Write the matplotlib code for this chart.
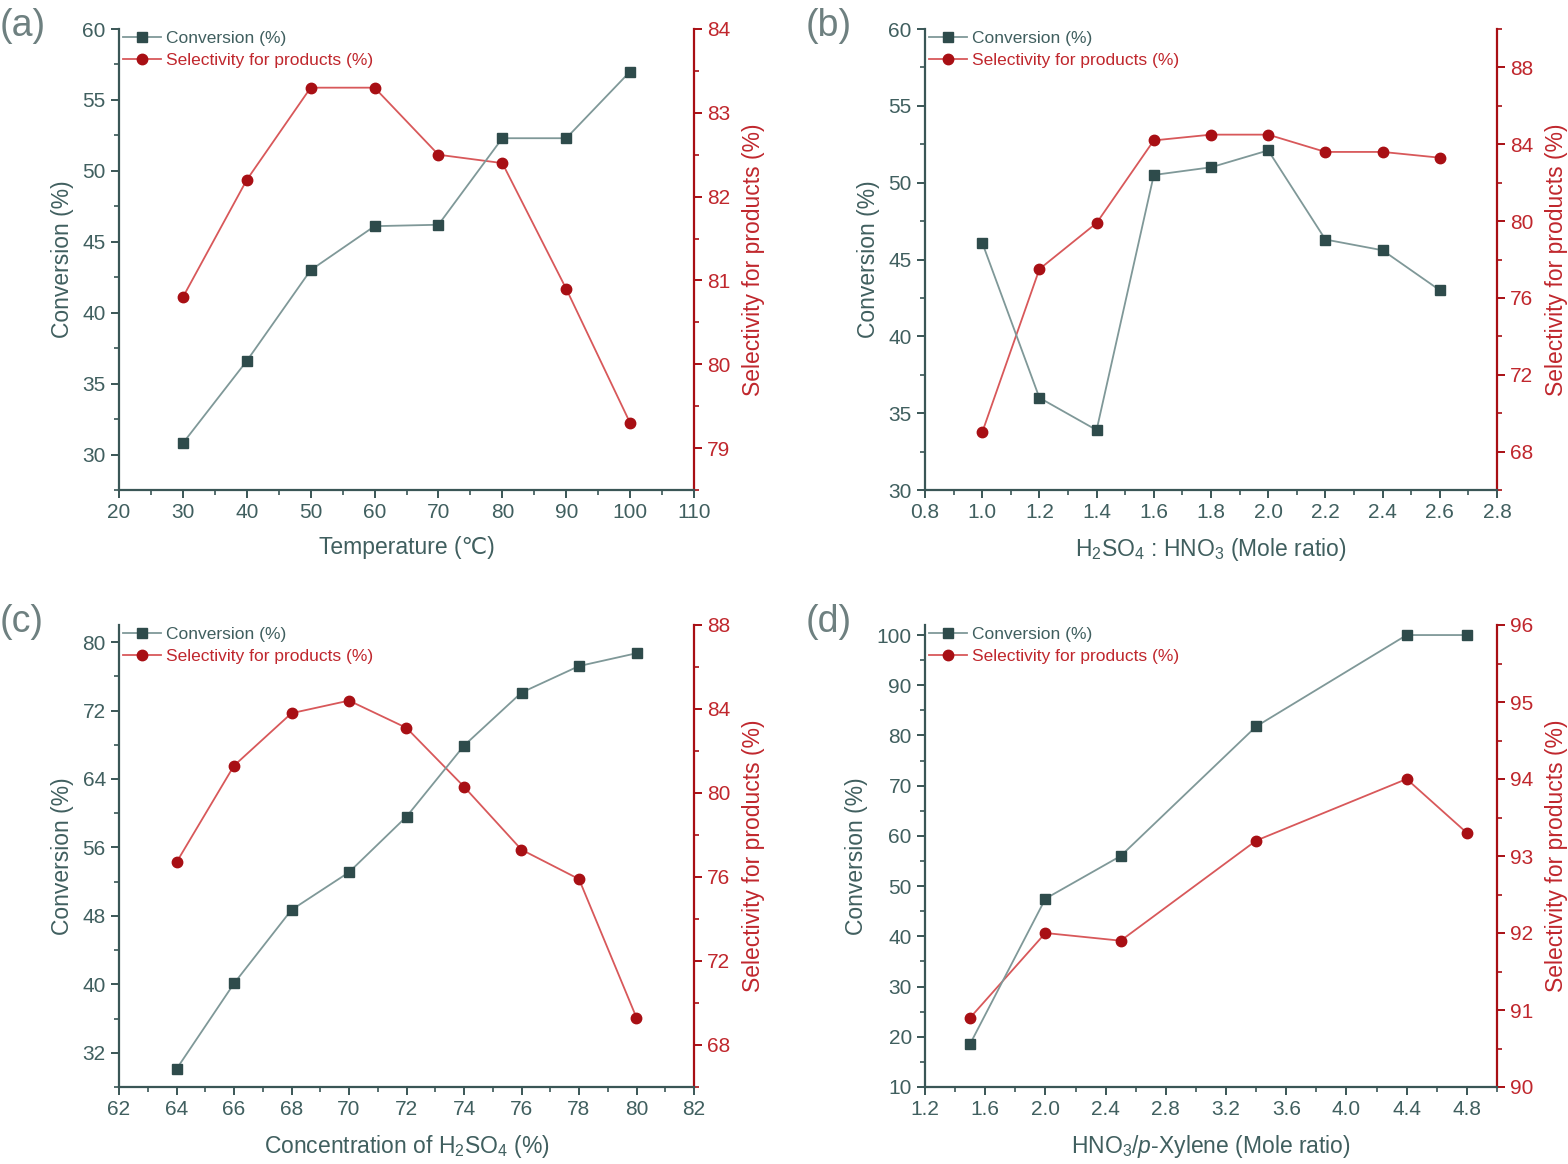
import matplotlib
matplotlib.use("Agg")
import matplotlib.pyplot as plt
from matplotlib.ticker import MultipleLocator
from matplotlib import font_manager

names = {f.name for f in font_manager.fontManager.ttflist}
NARROW = 'Liberation Sans Narrow' if 'Liberation Sans Narrow' in names else 'Liberation Sans'
plt.rcParams['font.family'] = ['Liberation Sans', 'DejaVu Sans']
plt.rcParams['mathtext.fontset'] = 'custom'
plt.rcParams['mathtext.rm'] = 'Liberation Sans'
plt.rcParams['mathtext.it'] = 'Liberation Sans:italic'

# ---------- data ----------
a_x = [30, 40, 50, 60, 70, 80, 90, 100]
a_conv = [30.8, 36.6, 43.0, 46.1, 46.2, 52.3, 52.3, 57.0]
a_sel = [80.8, 82.2, 83.3, 83.3, 82.5, 82.4, 80.9, 79.3]

b_x = [1.0, 1.2, 1.4, 1.6, 1.8, 2.0, 2.2, 2.4, 2.6]
b_conv = [46.1, 36.0, 33.9, 50.5, 51.0, 52.1, 46.3, 45.6, 43.0]
b_sel = [69.0, 77.5, 79.9, 84.2, 84.5, 84.5, 83.6, 83.6, 83.3]

c_x = [64, 66, 68, 70, 72, 74, 76, 78, 80]
c_conv = [30.1, 40.1, 48.7, 53.1, 59.6, 67.9, 74.1, 77.2, 78.7]
c_sel = [76.7, 81.3, 83.8, 84.4, 83.1, 80.3, 77.3, 75.9, 69.3]

d_x = [1.5, 2.0, 2.5, 3.4, 4.4, 4.8]
d_conv = [18.6, 47.5, 56.0, 81.8, 100.0, 100.0]
d_sel = [90.9, 92.0, 91.9, 93.2, 94.0, 93.3]

panels = [
    dict(tag='(a)', x=a_x, conv=a_conv, sel=a_sel,
         xlabel='Temperature (\u2103)',
         xlim=(20, 110), xmaj=10, xmin=5,
         ylim=(27.5, 60), ymaj=5, ymin=2.5,
         rlim=(78.5, 84), rmaj=1, rmin=0.5,
         pos=(119, 694, 29, 490)),
    dict(tag='(b)', x=b_x, conv=b_conv, sel=b_sel,
         xlabel='H$_2$SO$_4$ : HNO$_3$ (Mole ratio)',
         xlim=(0.8, 2.8), xmaj=0.2, xmin=0.1,
         ylim=(30, 60), ymaj=5, ymin=2.5,
         rlim=(66, 90), rmaj=4, rmin=2,
         pos=(925, 1497, 29, 490)),
    dict(tag='(c)', x=c_x, conv=c_conv, sel=c_sel,
         xlabel='Concentration of H$_2$SO$_4$ (%)',
         xlim=(62, 82), xmaj=2, xmin=1,
         ylim=(28, 82), ymaj=8, ymin=4,
         rlim=(66, 88), rmaj=4, rmin=2,
         pos=(119, 694, 625, 1087)),
    dict(tag='(d)', x=d_x, conv=d_conv, sel=d_sel,
         xlabel='HNO$_3$/$\\it{p}$-Xylene (Mole ratio)',
         xlim=(1.2, 5.0), xmaj=0.4, xmin=0.2,
         ylim=(10, 102), ymaj=10, ymin=5,
         rlim=(90, 96), rmaj=1, rmin=0.5,
         pos=(925, 1497, 625, 1087)),
]

W, H = 1568, 1164
fig = plt.figure(figsize=(W / 100, H / 100), dpi=100)

DARK = '#2E4B4B'
LINE = '#7F9898'
AXC = '#3A5656'
TXT = '#405F5F'
RED = '#A80F14'
REDL = '#D8585A'
REDT = '#C0272D'

for p in panels:
    l, r, t, b = p['pos']
    ax = fig.add_axes([l / W, 1 - b / H, (r - l) / W, (b - t) / H])
    ax2 = ax.twinx()
    ln1, = ax.plot(p['x'], p['conv'], color=LINE, lw=1.3, marker='s', ms=7,
                   mfc=DARK, mec=DARK, label='Conversion (%)', zorder=3)
    ln2, = ax2.plot(p['x'], p['sel'], color=REDL, lw=1.3, marker='o', ms=7.5,
                    mfc=RED, mec=RED, label='Selectivity for products (%)', zorder=3)
    ax.set_xlim(*p['xlim'])
    ax.set_ylim(*p['ylim'])
    ax2.set_ylim(*p['rlim'])
    ax.xaxis.set_major_locator(MultipleLocator(p['xmaj']))
    ax.xaxis.set_minor_locator(MultipleLocator(p['xmin']))
    ax.yaxis.set_major_locator(MultipleLocator(p['ymaj']))
    ax.yaxis.set_minor_locator(MultipleLocator(p['ymin']))
    ax2.yaxis.set_major_locator(MultipleLocator(p['rmaj']))
    ax2.yaxis.set_minor_locator(MultipleLocator(p['rmin']))
    if p['xmaj'] < 1:
        ax.xaxis.set_major_formatter(plt.FormatStrFormatter('%.1f'))

    for a in (ax, ax2):
        a.spines['top'].set_visible(False)
    ax.spines['right'].set_visible(False)
    ax.spines['left'].set_color(AXC)
    ax.spines['bottom'].set_color(AXC)
    ax2.spines['left'].set_visible(False)
    ax2.spines['bottom'].set_visible(False)
    ax2.spines['right'].set_color(RED)
    for s in ('left', 'bottom'):
        ax.spines[s].set_linewidth(1.6)
    ax2.spines['right'].set_linewidth(1.6)

    ax.tick_params(axis='both', which='major', direction='out', length=6, width=1.4,
                   color=AXC, labelcolor=TXT, labelsize=15)
    ax.tick_params(axis='both', which='minor', direction='out', length=3.5, width=1.2, color=AXC)
    ax2.tick_params(axis='y', which='major', direction='out', length=6, width=1.4,
                    color=RED, labelcolor=REDT, labelsize=15)
    ax2.tick_params(axis='y', which='minor', direction='out', length=3.5, width=1.2, color=RED)
    for lab in ax.get_xticklabels() + ax.get_yticklabels() + ax2.get_yticklabels():
        lab.set_fontfamily(NARROW)

    ax.set_xlabel(p['xlabel'], fontsize=16.5, color=TXT, labelpad=10)
    ax.set_ylabel('Conversion (%)', fontsize=16.5, color=TXT, labelpad=6)
    ax2.set_ylabel('Selectivity for products (%)', fontsize=16.5, color=REDT, labelpad=8)

    leg = ax.legend(handles=[ln1, ln2], loc='upper left', frameon=False, fontsize=12.5,
                    handlelength=2.2, handletextpad=0.3, borderaxespad=0.0,
                    labelspacing=0.35, bbox_to_anchor=(-0.005, 1.01))
    leg.get_texts()[0].set_color(TXT)
    leg.get_texts()[1].set_color(REDT)
    ax.set_zorder(ax2.get_zorder() + 1)
    ax.patch.set_visible(False)

    fig.text((l - 119) / W, 1 - (t - 21) / H, p['tag'], fontsize=27, color='#6E8080',
             va='top', ha='left')

fig.savefig('out.png', dpi=100)
